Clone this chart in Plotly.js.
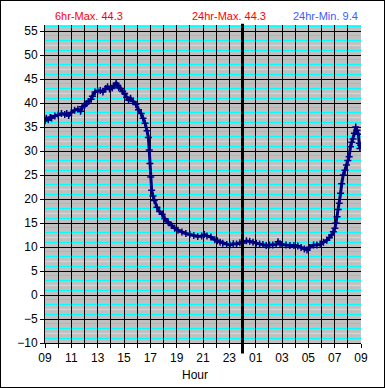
<!DOCTYPE html>
<html>
<head>
<meta charset="utf-8">
<script src="https://cdn.plot.ly/plotly-3.0.1.min.js"></script>
<style>
html,body{margin:0;padding:0;background:#fff;}
#frame{width:385px;height:388px;box-sizing:border-box;border:1px solid #000;overflow:hidden;}
#chart{width:383px;height:386px;}
</style>
</head>
<body>
<div id="frame"><div id="chart"></div></div>
<script>
// Clock times (HH:MM) of readings, starting 09:00 and wrapping past midnight
const times = [
"09:00","09:06","09:15","09:24","09:30","09:45","10:00","10:15","10:30","10:39","10:48",
"11:00","11:15","11:30","11:42","11:51","12:00","12:09","12:18","12:30","12:36","12:48",
"13:00","13:12","13:24","13:36","13:45","13:54","14:06","14:15","14:24","14:30","14:36","14:45","14:54",
"15:03","15:12","15:21","15:30","15:42","15:54","16:06","16:18","16:27","16:36","16:45","16:51","16:55","16:58",
"17:02","17:06","17:12","17:18","17:30","17:42","17:54","18:06","18:21","18:36","18:51",
"19:06","19:24","19:42","20:00","20:18","20:36","20:54","21:06","21:18","21:36","21:54",
"22:06","22:18","22:30","22:48","23:03","23:18","23:33","23:48",
"00:03","00:18","00:33","00:48","01:03","01:18","01:33","01:48","02:03","02:18","02:33","02:42","02:51",
"03:00","03:18","03:36","03:54","04:12","04:27","04:42","04:54","05:06","05:24","05:39","05:54",
"06:09","06:24","06:36","06:46","06:54","07:01","07:06","07:11","07:16","07:21","07:27","07:32","07:39","07:47","07:54",
"08:00","08:06","08:12","08:18","08:24","08:30","08:36","08:42","08:48","08:52","08:55","08:58"
];
// Temperature readings
const temps = [
36.3,36.8,36.5,37.0,36.9,37.3,37.5,37.8,37.6,37.8,37.4,
38.0,38.5,38.7,38.3,39.2,39.5,39.9,40.3,40.8,41.4,42.3,
42.5,42.6,42.3,43.0,43.4,42.9,43.1,43.6,44.1,43.7,43.2,43.0,42.4,
42.0,41.2,40.6,41.0,40.3,39.7,38.6,37.8,36.8,35.8,34.2,32.8,30.2,27.4,
24.6,21.8,20.6,19.7,18.3,17.4,16.8,15.9,15.2,14.5,13.9,
13.5,13.1,12.8,12.6,12.4,12.2,12.3,12.6,12.3,12.1,11.5,
11.3,11.0,10.8,10.5,10.4,10.7,10.6,10.9,
10.9,11.3,11.2,11.0,10.8,10.6,10.5,10.3,10.4,10.4,10.5,11.1,10.7,
10.5,10.4,10.3,10.3,10.2,9.9,9.6,9.4,9.9,10.4,10.4,10.6,
11.0,11.4,12.0,12.5,13.2,13.9,15.0,16.3,17.8,19.1,21.2,23.2,25.0,26.0,27.1,
28.0,28.8,30.9,31.8,32.5,33.7,35.0,34.3,33.5,31.6,30.5,31.2
];
// Hour tick labels (every hour has a tick, every other hour a label)
const hourLabels = ["09","10","11","12","13","14","15","16","17","18","19","20","21","22","23",
                    "00","01","02","03","04","05","06","07","08","09"];
const headerTexts = ["6hr-Max. 44.3","24hr-Max. 44.3","24hr-Min. 9.4"];
const xTitle = "Hour";

// build timestamps (day 1 then day 2 after midnight)
let day = 1, prev = -1;
const xs = times.map(t => {
  const [h, m] = t.split(":").map(Number);
  const mins = h * 60 + m;
  if (mins < prev) day = 2;
  prev = mins;
  return "2000-01-0" + day + " " + t;
});
let d2 = 1;
const tickVals = hourLabels.map((l, i) => {
  if (i > 0 && l === "00") d2 = 2;
  return "2000-01-0" + d2 + " " + l + ":00";
});
const tickText = hourLabels.map((l, i) => (i % 2 === 0 ? l : ""));

const Y0 = -10, Y1 = 56.25;
// background stripe pattern: cyan minor lines and light grey minor lines
const cyanVals = [], greyVals = [];
for (let v = Y0; v < Y1; v += 1) {
  const r = ((v % 5) + 5) % 5;
  if (r === 4 || r === 3 || r === 1) cyanVals.push(v);
  if (r === 2) greyVals.push(v);
}

const font = {family: "Liberation Sans, Arial, sans-serif", size: 12, color: "#000"};

const trace = {
  x: xs, y: temps, type: "scatter", mode: "lines+markers",
  line: {color: "#000080", width: 3},
  marker: {symbol: "cross-thin", size: 5, color: "#000080", line: {color: "#000080", width: 1.5}},
  hoverinfo: "skip"
};

const shapes = greyVals.map(v => ({
  type: "line", xref: "paper", yref: "y", x0: 0, x1: 1, y0: v, y1: v,
  line: {color: "#dadada", width: 1}, layer: "below"
}));
shapes.push({
  type: "line", xref: "x", yref: "paper",
  x0: tickVals[15], x1: tickVals[15], y0: -0.033, y1: 1.004,
  line: {color: "#000", width: 3}, layer: "above"
});

const layout = {
  width: 383, height: 386,
  margin: {l: 44, r: 23, t: 24, b: 44},
  paper_bgcolor: "#fff", plot_bgcolor: "#c0c0c0",
  showlegend: false,
  font: font,
  xaxis: {
    type: "date",
    range: [tickVals[0], tickVals[tickVals.length - 1]],
    tickmode: "array", tickvals: tickVals, ticktext: tickText,
    ticks: "outside", ticklen: 4, tickcolor: "#000", tickfont: font,
    showgrid: true, gridcolor: "#000", gridwidth: 1,
    showline: true, linecolor: "#000", linewidth: 1,
    zeroline: false
  },
  yaxis: {
    range: [Y0, Y1],
    tickmode: "linear", tick0: 0, dtick: 5,
    ticks: "outside", ticklen: 4, tickcolor: "#000", tickfont: font,
    showgrid: true, gridcolor: "#000", gridwidth: 1,
    minor: {tickmode: "array", tickvals: cyanVals, showgrid: true, gridcolor: "#00ffff", gridwidth: 1, ticks: ""},
    showline: true, linecolor: "#000", linewidth: 1,
    zeroline: false
  },
  shapes: shapes,
  annotations: [
    {text: headerTexts[0], xref: "paper", yref: "paper", x: (88 - 44) / 316, y: 1 + (24 - 15) / 318,
     xanchor: "center", yanchor: "middle", showarrow: false,
     font: {family: font.family, size: 11, color: "#ff0000"}},
    {text: headerTexts[1], xref: "paper", yref: "paper", x: (228 - 44) / 316, y: 1 + (24 - 15) / 318,
     xanchor: "center", yanchor: "middle", showarrow: false,
     font: {family: font.family, size: 11, color: "#ff0000"}},
    {text: headerTexts[2], xref: "paper", yref: "paper", x: (324 - 44) / 316, y: 1 + (24 - 15) / 318,
     xanchor: "center", yanchor: "middle", showarrow: false,
     font: {family: font.family, size: 11, color: "#3d5cff"}},
    {text: xTitle, xref: "paper", yref: "paper", x: (194 - 44) / 316, y: -(374 - 342) / 318,
     xanchor: "center", yanchor: "middle", showarrow: false, font: font}
  ]
};

Plotly.newPlot("chart", [trace], layout, {staticPlot: true, displayModeBar: false});
</script>
</body>
</html>
